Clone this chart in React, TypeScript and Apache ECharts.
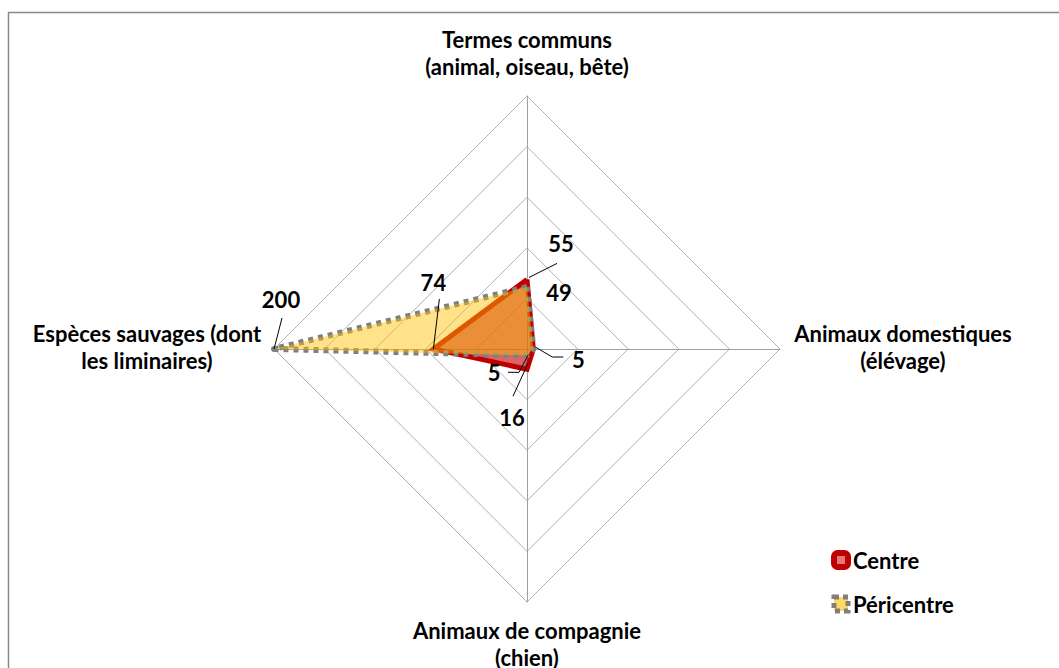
import React, { useEffect, useRef } from "react";
import * as echarts from "echarts";

// Axis (indicator) names, in ECharts radar order: top, left, bottom, right
const indicatorNames = [
  "Termes communs\n(animal, oiseau, bête)",
  "Espèces sauvages (dont\nles liminaires)",
  "Animaux de compagnie\n(chien)",
  "Animaux domestiques\n(élévage)",
];
const axisMax = 200;
const seriesNames = ["Centre", "Péricentre"];
const centreValues = [55, 74, 16, 5];
const pericentreValues = [49, 200, 5, 5];

const FONT = "bold 22px Lato";

// label layout: [seriesIndex, indicatorIndex, labelDx, labelDy, leader points offsets]
const labelLayout: [number, number, number, number, number[][]][] = [
  [0, 0, 34, -36, [[2, -2], [30, -16]]],
  [0, 1, 0, -67, [[0, 0], [6, -50]]],
  [0, 2, -15, 48, [[1, -6], [-14, 27]]],
  [0, 3, 45, 10, [[2, -2], [19, 8], [30, 8]]],
  [1, 0, 32, 5, []],
  [1, 1, 7, -50, [[0, 0], [8, -31]]],
  [1, 2, -33, 17, [[1, 0], [-8, 17], [-19, 17]]],
];
// axis name offsets from vertex
const nameOffsets = [
  [0, -43],
  [-127, -2],
  [0, 42],
  [123, -2],
];

export default function App() {
  const ref = useRef<HTMLDivElement>(null);
  useEffect(() => {
    if (!ref.current) return;
    const chart = echarts.init(ref.current, null, { renderer: "svg" });
    const option: any = {
      animation: false,
      backgroundColor: "#fff",
      legend: {
        orient: "vertical",
        left: 831,
        top: 549,
        padding: 0,
        itemWidth: 14,
        itemHeight: 14,
        itemGap: 22,
        textStyle: { fontFamily: "Lato", fontWeight: "bold", fontSize: 22, color: "#000" },
        data: [
          {
            name: seriesNames[0],
            icon: "roundRect",
            itemStyle: { color: "#E07A7A", borderColor: "#C00000", borderWidth: 6 },
          },
          {
            name: seriesNames[1],
            icon: "rect",
            itemStyle: { color: "#FFD966", borderColor: "#7F7F7F", borderWidth: 5, borderType: [5, 4] },
          },
        ],
      },
      radar: {
        center: [527, 349],
        radius: 253,
        shape: "polygon",
        splitNumber: 5,
        startAngle: 90,
        indicator: indicatorNames.map((n) => ({ name: n, max: axisMax, min: 0 })),
        axisName: { show: false },
        axisLine: { lineStyle: { color: "#A0A0A0", width: 1 } },
        splitLine: { lineStyle: { color: "#B0B0B0", width: 1 } },
        splitArea: { show: false },
      },
      series: [
        {
          type: "radar",
          name: seriesNames[0],
          symbol: "none",
          z: 2,
          itemStyle: { color: "#C00000" },
          lineStyle: { color: "#C00000", width: 5, join: "miter" },
          areaStyle: { color: "#C00000", opacity: 0.6 },
          data: [{ name: seriesNames[0], value: centreValues }],
        },
        {
          type: "radar",
          name: seriesNames[1],
          symbol: "none",
          z: 3,
          itemStyle: { color: "#7F7F7F" },
          lineStyle: { color: "#7F7F7F", width: 6, type: [5, 5], cap: "butt" },
          areaStyle: { color: "#FFC000", opacity: 0.46 },
          data: [{ name: seriesNames[1], value: pericentreValues }],
        },
      ],
    };
    chart.setOption(option);

    const cs = (chart as any).getModel().getComponent("radar", 0).coordinateSystem;
    const allValues = [centreValues, pericentreValues];
    const graphics: any[] = [];
    // border
    graphics.push({
      type: "line",
      z: 100,
      shape: { x1: 8, y1: 12.5, x2: 1059, y2: 12.5 },
      style: { stroke: "#898989", lineWidth: 1.5 },
    });
    graphics.push({
      type: "line",
      z: 100,
      shape: { x1: 8.5, y1: 12, x2: 8.5, y2: 668 },
      style: { stroke: "#898989", lineWidth: 1.5 },
    });
    // axis names
    indicatorNames.forEach((n, i) => {
      const p = cs.dataToPoint(axisMax, i);
      graphics.push({
        type: "text",
        z: 100,
        x: p[0] + nameOffsets[i][0],
        y: p[1] + nameOffsets[i][1],
        style: {
          text: n,
          font: FONT,
          fill: "#000",
          align: "center",
          verticalAlign: "middle",
          textAlign: "center",
          textVerticalAlign: "middle",
          lineHeight: 27,
        },
      });
    });
    // data labels
    labelLayout.forEach(([si, ii, dx, dy, leader]) => {
      const v = allValues[si][ii];
      const p = cs.dataToPoint(v, ii);
      if (leader.length > 1) {
        graphics.push({
          type: "polyline",
          z: 101,
          shape: { points: leader.map((o) => [p[0] + o[0], p[1] + o[1]]) },
          style: { stroke: "#000", lineWidth: 1, fill: null },
        });
      }
      graphics.push({
        type: "text",
        z: 101,
        x: p[0] + dx,
        y: p[1] + dy,
        style: {
          text: String(v),
          font: FONT,
          fill: "#000",
          align: "center",
          verticalAlign: "middle",
          textAlign: "center",
          textVerticalAlign: "middle",
        },
      });
    });
    chart.setOption({ graphic: { elements: graphics } });

    return () => chart.dispose();
  }, []);
  return (
    <div
      ref={ref}
      style={{ position: "absolute", left: 0, top: 0, width: 1059, height: 668 }}
    />
  );
}
